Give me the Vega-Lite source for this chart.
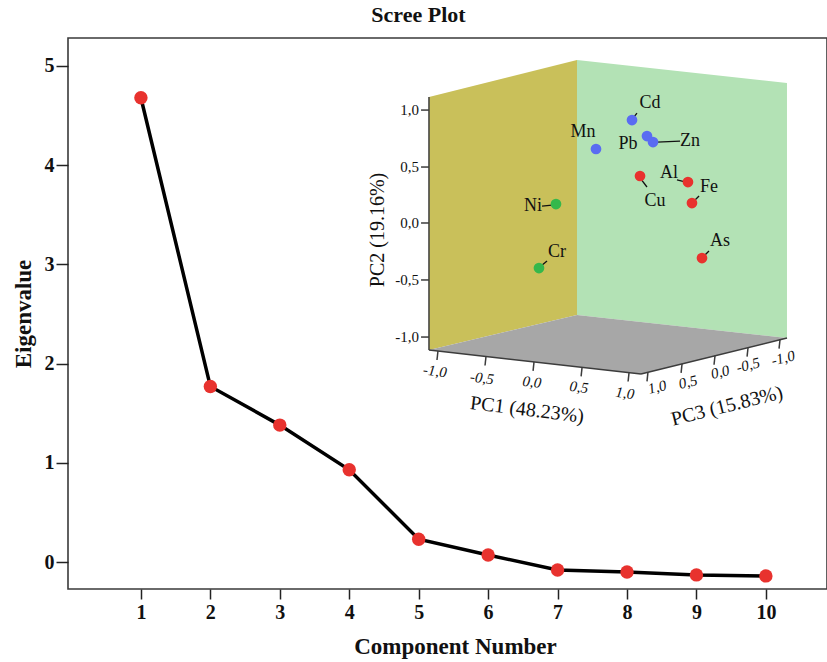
{
  "$schema": "https://vega.github.io/schema/vega-lite/v6.json",
  "width": 759,
  "height": 551,
  "autosize": {"type": "none"},
  "padding": {"left": 68, "top": 38, "right": 0, "bottom": 73},
  "background": "white",
  "config": {
    "view": {"stroke": "#3a3a3a", "strokeWidth": 1.6},
    "font": "Liberation Serif"
  },
  "title": {
    "text": "Scree Plot",
    "font": "Liberation Serif",
    "fontSize": 22,
    "fontWeight": "bold",
    "color": "#111",
    "anchor": "middle",
    "dx": -29,
    "offset": 11
  },
  "datasets": {
    "scree": [
      {"component": 1, "eigenvalue": 4.68},
      {"component": 2, "eigenvalue": 1.77},
      {"component": 3, "eigenvalue": 1.38},
      {"component": 4, "eigenvalue": 0.93},
      {"component": 5, "eigenvalue": 0.23},
      {"component": 6, "eigenvalue": 0.07},
      {"component": 7, "eigenvalue": -0.08},
      {"component": 8, "eigenvalue": -0.1},
      {"component": 9, "eigenvalue": -0.13},
      {"component": 10, "eigenvalue": -0.14}
    ],
    "walls": [
      {"part": "yellow", "h": -1.88, "top": 1.068, "bottom": -1.161},
      {"part": "yellow", "h": -0.33, "top": 1.394, "bottom": -0.853},
      {"part": "green", "h": -0.33, "top": 1.394, "bottom": -0.853},
      {"part": "green", "h": 1.869, "top": 1.191, "bottom": -1.056},
      {"part": "floor", "h": -1.88, "top": -1.161, "bottom": -1.161},
      {"part": "floor", "h": -0.33, "top": -0.853, "bottom": -1.309},
      {"part": "floor", "h": 0.34, "top": -0.915, "bottom": -1.373},
      {"part": "floor", "h": 1.869, "top": -1.056, "bottom": -1.056}
    ],
    "segments": [
      {"kind": "axis", "h": -1.88, "v": 1.068, "h2": -1.88, "v2": -1.161},
      {"kind": "axis", "h": -1.88, "v": -1.161, "h2": 0.34, "v2": -1.373},
      {"kind": "axis", "h": 0.34, "v": -1.373, "h2": 1.869, "v2": -1.056},
      {"kind": "axis", "h": -1.963, "v": 0.953, "h2": -1.88, "v2": 0.953},
      {"kind": "axis", "h": -1.963, "v": 0.451, "h2": -1.88, "v2": 0.451},
      {"kind": "axis", "h": -1.963, "v": -0.042, "h2": -1.88, "v2": -0.042},
      {"kind": "axis", "h": -1.963, "v": -0.544, "h2": -1.88, "v2": -0.544},
      {"kind": "axis", "h": -1.963, "v": -1.047, "h2": -1.88, "v2": -1.047},
      {"kind": "axis", "h": -1.786, "v": -1.17, "h2": -1.796, "v2": -1.249},
      {"kind": "axis", "h": -1.283, "v": -1.219, "h2": -1.293, "v2": -1.298},
      {"kind": "axis", "h": -0.78, "v": -1.266, "h2": -0.79, "v2": -1.345},
      {"kind": "axis", "h": -0.277, "v": -1.314, "h2": -0.287, "v2": -1.393},
      {"kind": "axis", "h": 0.215, "v": -1.36, "h2": 0.205, "v2": -1.439},
      {"kind": "axis", "h": 0.413, "v": -1.358, "h2": 0.403, "v2": -1.437},
      {"kind": "axis", "h": 0.77, "v": -1.284, "h2": 0.76, "v2": -1.363},
      {"kind": "axis", "h": 1.115, "v": -1.212, "h2": 1.105, "v2": -1.291},
      {"kind": "axis", "h": 1.461, "v": -1.14, "h2": 1.451, "v2": -1.219},
      {"kind": "axis", "h": 1.796, "v": -1.07, "h2": 1.786, "v2": -1.149},
      {"kind": "leader", "h": 0.257, "v": 0.882, "h2": 0.298, "v2": 0.926},
      {"kind": "leader", "h": 0.508, "v": 0.671, "h2": 0.749, "v2": 0.68},
      {"kind": "leader", "h": 0.34, "v": 0.345, "h2": 0.403, "v2": 0.275},
      {"kind": "leader", "h": 0.717, "v": 0.337, "h2": 0.812, "v2": 0.319},
      {"kind": "leader", "h": 0.895, "v": 0.152, "h2": 0.948, "v2": 0.196},
      {"kind": "leader", "h": 1.0, "v": -0.333, "h2": 1.052, "v2": -0.289},
      {"kind": "leader", "h": -0.696, "v": 0.107, "h2": -0.592, "v2": 0.116},
      {"kind": "leader", "h": -0.707, "v": -0.421, "h2": -0.644, "v2": -0.377}
    ],
    "elements": [
      {"element": "Cd", "group": "blue", "h": 0.246, "v": 0.865, "lh": 0.435, "lv": 1.015},
      {"element": "Mn", "group": "blue", "h": -0.131, "v": 0.61, "lh": -0.267, "lv": 0.759},
      {"element": "Pb", "group": "blue", "h": 0.403, "v": 0.724, "lh": 0.205, "lv": 0.654},
      {"element": "Zn", "group": "blue", "h": 0.466, "v": 0.671, "lh": 0.853, "lv": 0.68},
      {"element": "Cu", "group": "red", "h": 0.33, "v": 0.372, "lh": 0.487, "lv": 0.152},
      {"element": "Al", "group": "red", "h": 0.832, "v": 0.319, "lh": 0.634, "lv": 0.398},
      {"element": "Fe", "group": "red", "h": 0.874, "v": 0.134, "lh": 1.053, "lv": 0.275},
      {"element": "As", "group": "red", "h": 0.979, "v": -0.351, "lh": 1.168, "lv": -0.201},
      {"element": "Ni", "group": "green", "h": -0.55, "v": 0.125, "lh": -0.791, "lv": 0.107},
      {"element": "Cr", "group": "green", "h": -0.728, "v": -0.439, "lh": -0.539, "lv": -0.298}
    ],
    "insetText": [
      {"kind": "pc2tick", "label": "1,0", "h": -1.985, "v": 0.953},
      {"kind": "pc2tick", "label": "0,5", "h": -1.985, "v": 0.451},
      {"kind": "pc2tick", "label": "0,0", "h": -1.985, "v": -0.042},
      {"kind": "pc2tick", "label": "-0,5", "h": -1.985, "v": -0.544},
      {"kind": "pc2tick", "label": "-1,0", "h": -1.985, "v": -1.047},
      {"kind": "pc1tick", "label": "-1,0", "h": -1.817, "v": -1.346},
      {"kind": "pc1tick", "label": "-0,5", "h": -1.325, "v": -1.407},
      {"kind": "pc1tick", "label": "0,0", "h": -0.801, "v": -1.442},
      {"kind": "pc1tick", "label": "0,5", "h": -0.309, "v": -1.487},
      {"kind": "pc1tick", "label": "1,0", "h": 0.173, "v": -1.54},
      {"kind": "pc3tick", "label": "1,0", "h": 0.508, "v": -1.487},
      {"kind": "pc3tick", "label": "0,5", "h": 0.832, "v": -1.443},
      {"kind": "pc3tick", "label": "0,0", "h": 1.168, "v": -1.355},
      {"kind": "pc3tick", "label": "-0,5", "h": 1.461, "v": -1.293},
      {"kind": "pc3tick", "label": "-1,0", "h": 1.827, "v": -1.232},
      {"kind": "pc1title", "label": "PC1 (48.23%)", "h": -0.853, "v": -1.689},
      {"kind": "pc3title", "label": "PC3 (15.83%)", "h": 1.241, "v": -1.655},
      {"kind": "pc2title", "label": "PC2 (19.16%)", "h": -2.414, "v": -0.104}
    ]
  },
  "layer": [
    {
      "data": {"name": "scree"},
      "encoding": {
        "x": {
          "field": "component",
          "type": "quantitative",
          "scale": {"domain": [-0.05, 10.88], "nice": false, "zero": false},
          "axis": {
            "title": "Component Number",
            "values": [1, 2, 3, 4, 5, 6, 7, 8, 9, 10],
            "format": "d",
            "grid": false,
            "domain": false,
            "tickSize": 10,
            "tickColor": "#222",
            "tickWidth": 1.5,
            "labelPadding": 3,
            "labelFont": "Liberation Serif",
            "labelFontSize": 20,
            "labelFontWeight": "bold",
            "labelColor": "#111",
            "titleFont": "Liberation Serif",
            "titleFontSize": 23,
            "titleFontWeight": "bold",
            "titleColor": "#111",
            "titlePadding": 13,
            "titleX": 387
          }
        },
        "y": {
          "field": "eigenvalue",
          "type": "quantitative",
          "scale": {"domain": [-0.272, 5.282], "nice": false, "zero": false},
          "axis": {
            "title": "Eigenvalue",
            "values": [0, 1, 2, 3, 4, 5],
            "format": "d",
            "grid": false,
            "domain": false,
            "tickSize": 12,
            "tickColor": "#222",
            "tickWidth": 1.5,
            "labelPadding": 2,
            "labelFont": "Liberation Serif",
            "labelFontSize": 20,
            "labelFontWeight": "bold",
            "labelColor": "#111",
            "titleFont": "Liberation Serif",
            "titleFontSize": 23,
            "titleFontWeight": "bold",
            "titleColor": "#111",
            "titlePadding": 9
          }
        }
      },
      "layer": [
        {"mark": {"type": "line", "color": "#000", "strokeWidth": 3.5}},
        {"mark": {"type": "point", "filled": true, "color": "#e8322e", "size": 180, "opacity": 1}}
      ]
    },
    {
      "resolve": {"scale": {"color": "independent"}},
      "layer": [
        {
          "data": {"name": "walls"},
          "mark": {"type": "area", "opacity": 1},
          "encoding": {
            "x": {"field": "h", "type": "quantitative", "scale": {"domain": [-5.66, 2.288], "nice": false, "zero": false}, "axis": null},
            "y": {"field": "top", "type": "quantitative", "stack": null, "scale": {"domain": [-3.267, 1.588], "nice": false, "zero": false}, "axis": null},
            "y2": {"field": "bottom"},
            "color": {"field": "part", "type": "nominal", "scale": {"domain": ["yellow", "green", "floor"], "range": ["#c9c05a", "#b3e2b5", "#a7a7a7"]}, "legend": null}
          }
        },
        {
          "data": {"name": "segments"},
          "transform": [{"filter": "datum.kind === 'axis'"}],
          "mark": {"type": "rule", "color": "#3c3c3c", "strokeWidth": 1.5},
          "encoding": {
            "x": {"field": "h", "type": "quantitative"},
            "y": {"field": "v", "type": "quantitative"},
            "x2": {"field": "h2"},
            "y2": {"field": "v2"}
          }
        },
        {
          "data": {"name": "segments"},
          "transform": [{"filter": "datum.kind === 'leader'"}],
          "mark": {"type": "rule", "color": "#111", "strokeWidth": 1.3},
          "encoding": {
            "x": {"field": "h", "type": "quantitative"},
            "y": {"field": "v", "type": "quantitative"},
            "x2": {"field": "h2"},
            "y2": {"field": "v2"}
          }
        },
        {
          "data": {"name": "elements"},
          "mark": {"type": "point", "filled": true, "size": 115, "opacity": 1},
          "encoding": {
            "x": {"field": "h", "type": "quantitative"},
            "y": {"field": "v", "type": "quantitative"},
            "color": {"field": "group", "type": "nominal", "scale": {"domain": ["blue", "red", "green"], "range": ["#5a6cf2", "#e8322e", "#35b84b"]}, "legend": null}
          }
        },
        {
          "data": {"name": "elements"},
          "mark": {"type": "text", "font": "Liberation Serif", "fontSize": 18, "color": "#111", "align": "center", "baseline": "middle"},
          "encoding": {
            "x": {"field": "lh", "type": "quantitative"},
            "y": {"field": "lv", "type": "quantitative"},
            "text": {"field": "element"}
          }
        },
        {
          "data": {"name": "insetText"},
          "transform": [{"filter": "datum.kind === 'pc2tick'"}],
          "mark": {"type": "text", "font": "Liberation Serif", "fontSize": 15, "color": "#111", "align": "right", "baseline": "middle"},
          "encoding": {
            "x": {"field": "h", "type": "quantitative"},
            "y": {"field": "v", "type": "quantitative"},
            "text": {"field": "label"}
          }
        },
        {
          "data": {"name": "insetText"},
          "transform": [{"filter": "datum.kind === 'pc1tick'"}],
          "mark": {"type": "text", "font": "Liberation Serif", "fontSize": 15, "fontStyle": "italic", "color": "#111", "align": "center", "baseline": "middle", "angle": 7},
          "encoding": {
            "x": {"field": "h", "type": "quantitative"},
            "y": {"field": "v", "type": "quantitative"},
            "text": {"field": "label"}
          }
        },
        {
          "data": {"name": "insetText"},
          "transform": [{"filter": "datum.kind === 'pc3tick'"}],
          "mark": {"type": "text", "font": "Liberation Serif", "fontSize": 15, "fontStyle": "italic", "color": "#111", "align": "center", "baseline": "middle", "angle": 346},
          "encoding": {
            "x": {"field": "h", "type": "quantitative"},
            "y": {"field": "v", "type": "quantitative"},
            "text": {"field": "label"}
          }
        },
        {
          "data": {"name": "insetText"},
          "transform": [{"filter": "datum.kind === 'pc1title'"}],
          "mark": {"type": "text", "font": "Liberation Serif", "fontSize": 20, "color": "#111", "align": "center", "baseline": "middle", "angle": 7},
          "encoding": {
            "x": {"field": "h", "type": "quantitative"},
            "y": {"field": "v", "type": "quantitative"},
            "text": {"field": "label"}
          }
        },
        {
          "data": {"name": "insetText"},
          "transform": [{"filter": "datum.kind === 'pc3title'"}],
          "mark": {"type": "text", "font": "Liberation Serif", "fontSize": 20, "color": "#111", "align": "center", "baseline": "middle", "angle": 346},
          "encoding": {
            "x": {"field": "h", "type": "quantitative"},
            "y": {"field": "v", "type": "quantitative"},
            "text": {"field": "label"}
          }
        },
        {
          "data": {"name": "insetText"},
          "transform": [{"filter": "datum.kind === 'pc2title'"}],
          "mark": {"type": "text", "font": "Liberation Serif", "fontSize": 20, "color": "#111", "align": "center", "baseline": "middle", "angle": 270},
          "encoding": {
            "x": {"field": "h", "type": "quantitative"},
            "y": {"field": "v", "type": "quantitative"},
            "text": {"field": "label"}
          }
        }
      ]
    }
  ],
  "resolve": {"scale": {"x": "independent", "y": "independent", "color": "independent"}}
}
